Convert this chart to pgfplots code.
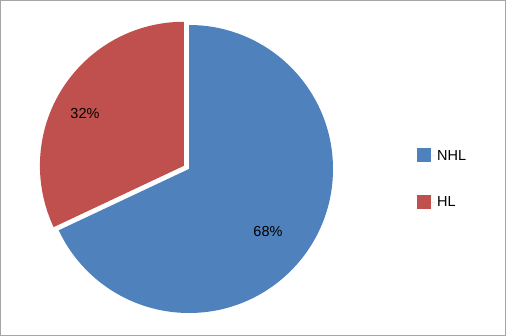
\documentclass[border=0pt]{standalone}
\usepackage{pgfplots}
\pgfplotsset{compat=1.18}
\usepackage{pgfplotstable}
\usetikzlibrary{calc}
\usepackage{fontspec}
\setmainfont{Liberation Sans}
\definecolor{nhlblue}{HTML}{4F81BD}
\definecolor{hlred}{HTML}{C0504D}
\definecolor{framegray}{HTML}{A6A6A6}
\pgfplotstableread{
label value
NHL 68
HL 32
}\piedata
\begin{document}
\begin{tikzpicture}
\pgfplotstablegetelem{0}{value}\of\piedata
\pgfmathsetmacro{\vA}{\pgfplotsretval}
\pgfplotstablegetelem{1}{value}\of\piedata
\pgfmathsetmacro{\vB}{\pgfplotsretval}
\pgfmathsetmacro{\endA}{90-3.6*\vA}
\pgfmathsetmacro{\endB}{90+3.6*\vB}
\pgfmathsetmacro{\midB}{90+1.8*\vB}
\begin{axis}[
  width=506bp, height=336bp, scale only axis,
  xmin=0, xmax=506, ymin=0, ymax=336,
  hide axis, clip=false,
  legend image code/.code={\fill[draw=none,#1] (0bp,-6.5bp) rectangle (14bp,7.5bp);
     \path (0bp,0bp) -- (18bp,0bp);},
  legend style={at={(axis cs:414,190)}, anchor=north west, draw=none, fill=none,
    font=\fontsize{14.5bp}{16bp}\selectfont, row sep=31bp},
  legend cell align=left,
]
\addlegendimage{draw=none,fill=nhlblue}
\addlegendentry{NHL}
\addlegendimage{draw=none,fill=hlred}
\addlegendentry{HL}
% frame
\draw[framegray, line width=1.2bp] (axis cs:0.6,0.6) rectangle (axis cs:505.4,335.4);
% pie: NHL slice
\fill[nhlblue] (axis cs:189,167) -- ++(90:144bp) arc[start angle=90, end angle=\endA, radius=144bp] -- cycle;
% HL slice exploded
\fill[hlred] ($(axis cs:189,167)+(\midB:6bp)$) -- ++(90:144bp) arc[start angle=90, end angle=\endB, radius=144bp] -- cycle;
\node[font=\fontsize{14.5bp}{16bp}\selectfont] at (axis cs:268,104) {68\%};
\node[font=\fontsize{14.5bp}{16bp}\selectfont] at (axis cs:85,222) {32\%};
\end{axis}
\end{tikzpicture}
\end{document}
